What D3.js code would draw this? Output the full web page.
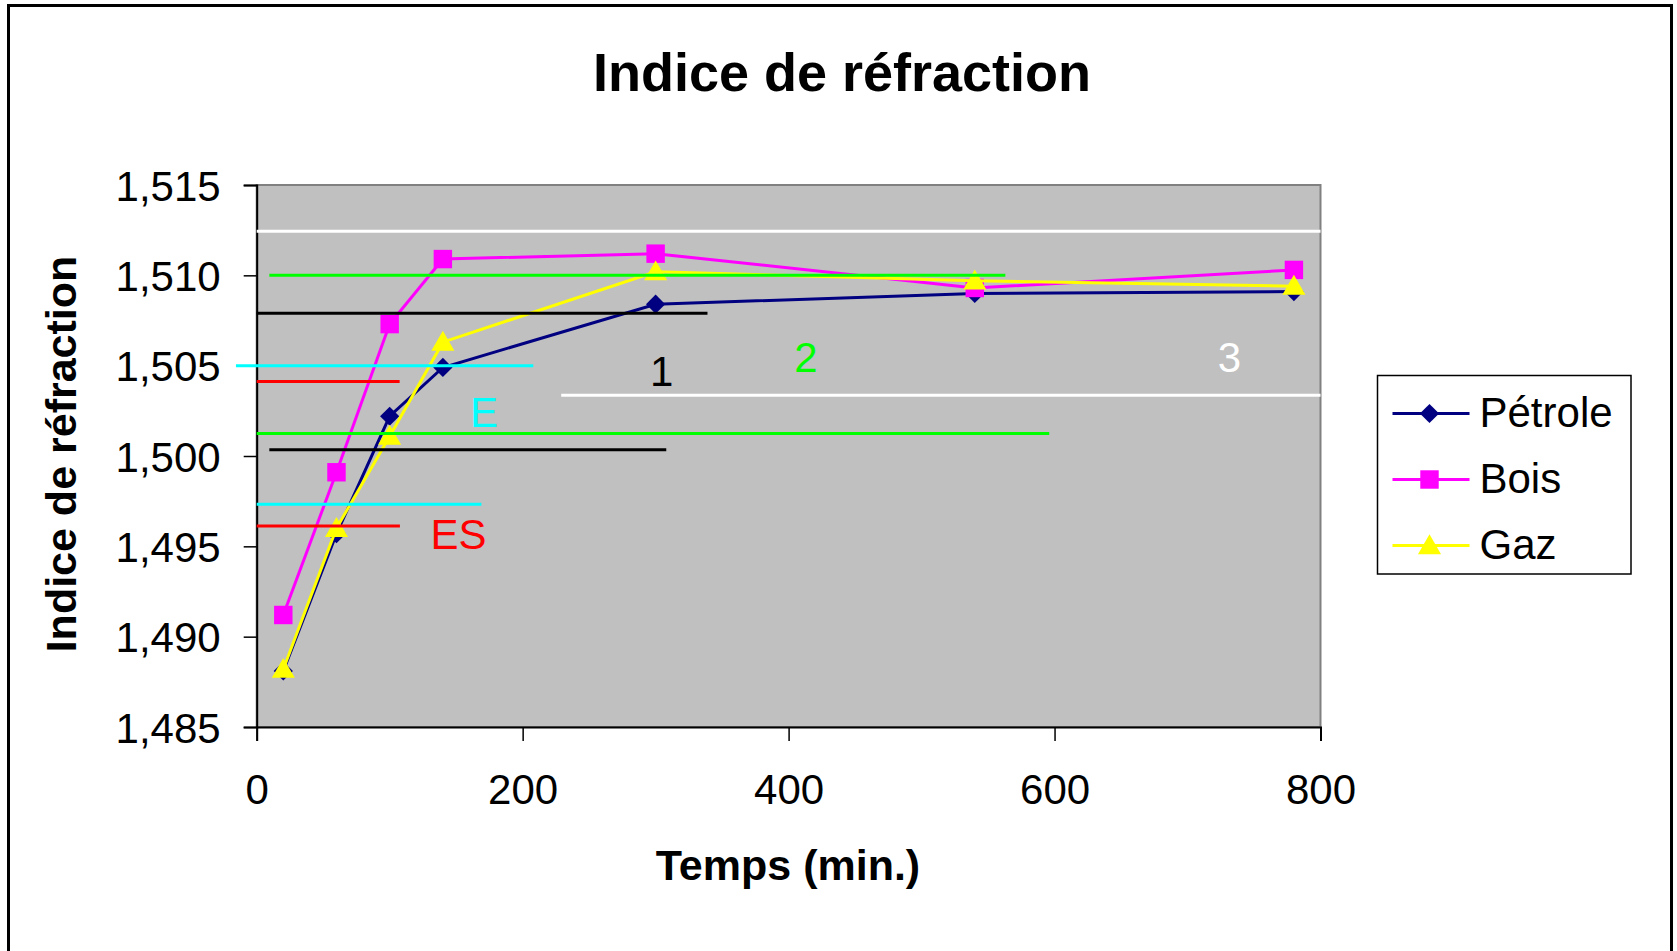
<!DOCTYPE html>
<html>
<head>
<meta charset="utf-8">
<script src="https://cdn.jsdelivr.net/npm/d3@7"></script>
<style>
  html, body { margin: 0; padding: 0; background: #fff; }
  svg { display: block; }
  text { font-family: "Liberation Sans", Arial, sans-serif; }
</style>
</head>
<body>
<svg id="chart" width="1677" height="951"></svg>
<script>
// Sampling times (minutes)
const times = [20, 60, 100, 140, 300, 540, 780];

// Refractive index per fuel
const petrole = [1.4881, 1.4957, 1.5022, 1.5049, 1.5084, 1.5090, 1.5091];
const bois    = [1.4912, 1.4991, 1.5073, 1.5109, 1.5112, 1.5093, 1.5103];
const gaz     = [1.4882, 1.4960, 1.5011, 1.5063, 1.5102, 1.5097, 1.5094];

const seriesNames = ["Pétrole", "Bois", "Gaz"];

// Axis ticks
const xTicks = [0, 200, 400, 600, 800];
const yTicks = [1.485, 1.490, 1.495, 1.500, 1.505, 1.510, 1.515];

// Reference levels marking the zones (index value, start and end time)
const zoneLevels = [1.51244, 1.5100, 1.5079, 1.5050, 1.50413, 1.50336, 1.50125, 1.50034, 1.49733, 1.49612];
const zoneFrom   = [0,       9.5,    0,      -15.6,  0,       229,     0,       9.5,     0,       0];
const zoneTo     = [800,     563,    339,    208,    107.5,   800,     596,     308,     169,     107.7];

// Zone names, anchored at (time, index)
const zoneNames  = ["1", "2", "3", "E", "ES"];
const zoneNameX  = [304.5, 413, 731.5, 171, 151.7];
const zoneNameY  = [1.50388, 1.50467, 1.50467, 1.50162, 1.49484];

// ---- styles ----
const seriesColors = ["#000080", "#FF00FF", "#FFFF00"];
const seriesSymbols = [d3.symbolSquare, d3.symbolSquare, d3.symbolTriangle];
const symbolSizes = [185, 340, 230];
const symbolRotate = [45, 0, 0];
const symbolShift = [0, 0, 2];
const zoneColors = ["#FFFFFF", "#00FF00", "#000000", "#00FFFF", "#FF0000",
                    "#FFFFFF", "#00FF00", "#000000", "#00FFFF", "#FF0000"];
const zoneNameColors = ["#000000", "#00FF00", "#FFFFFF", "#00FFFF", "#FF0000"];

const svg = d3.select("#chart");

const plot = { left: 256.7, right: 1320.5, top: 185, bottom: 727 };

const x = d3.scaleLinear().domain([0, 800]).range([plot.left, plot.right]);
const y = d3.scaleLinear().domain([1.485, 1.515]).range([plot.bottom, plot.top]);

const frLocale = d3.formatLocale({ decimal: ",", thousands: " ", grouping: [3], currency: ["", " €"] });
const yFmt = frLocale.format(".3f");

// Outer frame
svg.append("rect")
  .attr("x", 8.5).attr("y", 5.5)
  .attr("width", 1663).attr("height", 960)
  .attr("fill", "#fff").attr("stroke", "#000").attr("stroke-width", 3);

// Title
svg.append("text")
  .attr("x", 842).attr("y", 91)
  .attr("text-anchor", "middle")
  .attr("font-size", 54).attr("font-weight", "bold")
  .text("Indice de réfraction");

// Plot background
svg.append("rect")
  .attr("x", plot.left).attr("y", plot.top)
  .attr("width", plot.right - plot.left).attr("height", plot.bottom - plot.top)
  .attr("fill", "#C0C0C0").attr("stroke", "#808080").attr("stroke-width", 2);

// Y axis
const yAxis = d3.axisLeft(y).tickValues(yTicks).tickFormat(yFmt).tickSize(13).tickPadding(23);
const gy = svg.append("g").attr("transform", `translate(${plot.left},0)`).call(yAxis);
gy.select(".domain").attr("stroke", "#000").attr("stroke-width", 2);
gy.selectAll(".tick line").attr("stroke", "#000").attr("stroke-width", 1.5);
gy.selectAll(".tick text")
  .attr("font-size", 42).attr("fill", "#000")
  .attr("font-family", "'Liberation Sans', Arial, sans-serif")
  .attr("dy", "0.36em");

// X axis
const xAxis = d3.axisBottom(x).tickValues(xTicks).tickFormat(d3.format("d")).tickSize(14).tickPadding(33);
const gx = svg.append("g").attr("transform", `translate(0,${plot.bottom})`).call(xAxis);
gx.select(".domain").attr("stroke", "#000").attr("stroke-width", 2);
gx.selectAll(".tick line").attr("stroke", "#000").attr("stroke-width", 1.5);
gx.selectAll(".tick text")
  .attr("font-size", 42).attr("fill", "#000")
  .attr("font-family", "'Liberation Sans', Arial, sans-serif")
  .attr("dy", "0.71em");

// Axis titles
svg.append("text")
  .attr("x", 788).attr("y", 880)
  .attr("text-anchor", "middle")
  .attr("font-size", 43).attr("font-weight", "bold")
  .text("Temps (min.)");

svg.append("text")
  .attr("transform", "translate(76,454) rotate(-90)")
  .attr("text-anchor", "middle")
  .attr("font-size", 43).attr("font-weight", "bold")
  .text("Indice de réfraction");

// Series
const allSeries = [petrole, bois, gaz];
const line = d3.line().x((d, i) => x(times[i])).y(d => y(d));

allSeries.forEach((vals, s) => {
  const g = svg.append("g").attr("class", "series");
  g.append("path")
    .datum(vals)
    .attr("d", line)
    .attr("fill", "none")
    .attr("stroke", seriesColors[s])
    .attr("stroke-width", 3);
  const sym = d3.symbol().type(seriesSymbols[s]).size(symbolSizes[s]);
  g.selectAll("path.marker")
    .data(vals)
    .join("path")
    .attr("class", "marker")
    .attr("transform", (d, i) =>
      `translate(${x(times[i])},${y(d) + symbolShift[s]}) rotate(${symbolRotate[s]})`)
    .attr("d", sym)
    .attr("fill", seriesColors[s]);
});

// Zone reference lines
svg.append("g").selectAll("line")
  .data(zoneLevels)
  .join("line")
  .attr("x1", (d, i) => x(zoneFrom[i]))
  .attr("x2", (d, i) => x(zoneTo[i]))
  .attr("y1", d => y(d))
  .attr("y2", d => y(d))
  .attr("stroke", (d, i) => zoneColors[i])
  .attr("stroke-width", 3);

// Zone names
svg.append("g").selectAll("text")
  .data(zoneNames)
  .join("text")
  .attr("x", (d, i) => x(zoneNameX[i]))
  .attr("y", (d, i) => y(zoneNameY[i]))
  .attr("text-anchor", "middle")
  .attr("font-size", 42)
  .attr("fill", (d, i) => zoneNameColors[i])
  .text(d => d);

// Legend
const legend = svg.append("g").attr("transform", "translate(1377.5,375.5)");
legend.append("rect")
  .attr("width", 253.5).attr("height", 198.5)
  .attr("fill", "#fff").attr("stroke", "#000").attr("stroke-width", 1.5);
const rowY = [38, 104, 170];
seriesNames.forEach((name, s) => {
  const row = legend.append("g").attr("transform", `translate(0,${rowY[s]})`);
  row.append("line")
    .attr("x1", 15).attr("x2", 92)
    .attr("stroke", seriesColors[s]).attr("stroke-width", 3);
  row.append("path")
    .attr("transform", `translate(52,${symbolShift[s]}) rotate(${symbolRotate[s]})`)
    .attr("d", d3.symbol().type(seriesSymbols[s]).size(symbolSizes[s]))
    .attr("fill", seriesColors[s]);
  row.append("text")
    .attr("x", 102).attr("y", 13)
    .attr("font-size", 42)
    .text(name);
});
</script>
</body>
</html>
